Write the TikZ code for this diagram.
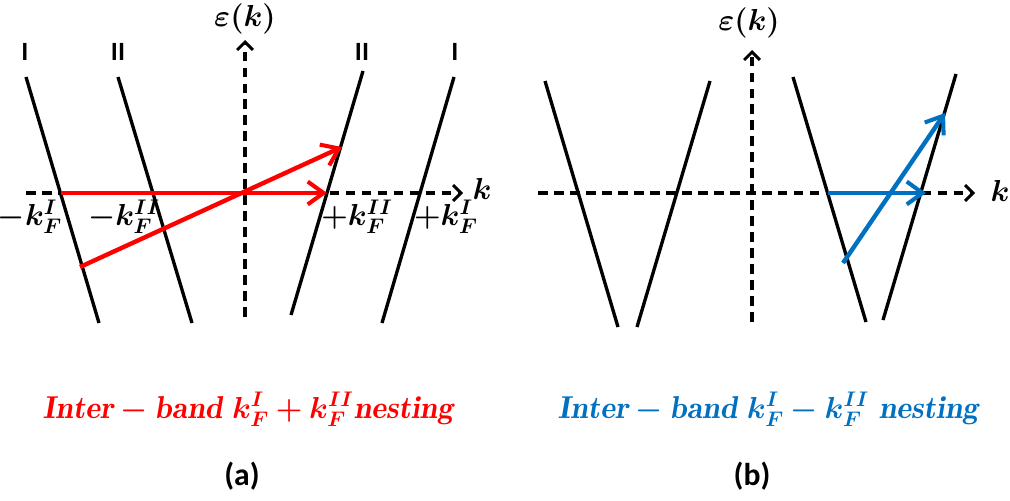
\documentclass[tikz,border=0pt]{standalone}
\usepackage{amsmath,bm}
\usepackage{fontspec}
\newfontfamily\calib{Carlito}
\usetikzlibrary{arrows.meta}
\definecolor{nred}{RGB}{255,0,0}
\definecolor{nblue}{RGB}{0,112,192}
\tikzset{
  band/.style={line width=1.9pt, black},
  axisline/.style={line width=1.9pt, black, dash pattern=on 5.5pt off 3.6pt,
    -{Straight Barb[length=4.5pt,width=9pt,line width=1.7pt]}},
  nestarrow/.style={line width=2.5pt, -{Straight Barb[length=9pt,width=13pt,line width=2.3pt]}},
  blabel/.style={font=\calib\bfseries\fontsize{15}{16}\selectfont, inner sep=0pt},
  klabel/.style={font=\fontsize{17}{19}\selectfont, inner sep=0pt},
  epslabel/.style={font=\fontsize{17.5}{20}\selectfont, inner sep=0pt},
  caption/.style={font=\fontsize{18}{20}\selectfont, inner sep=0pt, anchor=base},
  panel/.style={font=\calib\bfseries\fontsize{18}{20}\selectfont, inner sep=0pt},
}
\begin{document}
\begin{tikzpicture}[x=0.02cm,y=-0.02cm]
\useasboundingbox (0,0) rectangle (1010,500);

% ---------- panel (a) ----------
\coordinate (aYb) at (245,317);
\coordinate (aYt) at (245,40);
\coordinate (aXl) at (26,193);
\coordinate (aXr) at (463,193);
\draw[axisline] (aYb) -- (aYt);
\draw[axisline] (aXl) -- (aXr);
\node[epslabel] (aeps) at (245,19) {$\bm{\varepsilon}\bm{(}\bm{k}\bm{)}$};
\node[klabel] (ak) at (482,189) {$\bm{k}$};

\coordinate (a1t) at (26,77);  \coordinate (a1b) at (99,323);
\coordinate (a2t) at (118,77); \coordinate (a2b) at (192,323);
\coordinate (a3t) at (363,71); \coordinate (a3b) at (291,315);
\coordinate (a4t) at (454,77); \coordinate (a4b) at (382,323);
\draw[band] (a1t) -- (a1b);
\draw[band] (a2t) -- (a2b);
\draw[band] (a3t) -- (a3b);
\draw[band] (a4t) -- (a4b);

\node[blabel] (aI1) at (25,52) {I};
\node[blabel] (aII1) at (118,52) {II};
\node[blabel] (aII2) at (362,52) {II};
\node[blabel] (aI2) at (455,52) {I};

\node[klabel] (kf1) at (30,217) {$\bm{-k_F^{I}}$};
\node[klabel] (kf2) at (124,217) {$\bm{-k_F^{II}}$};
\node[klabel] (kf3) at (357,217) {$\bm{+k_F^{II}}$};
\node[klabel] (kf4) at (446,217) {$\bm{+k_F^{I}}$};

\coordinate (rh1) at (61,193);  \coordinate (rh2) at (327,193);
\coordinate (rd1) at (80,267);  \coordinate (rd2) at (342,147);
\draw[nestarrow, nred] (rh1) -- (rh2);
\draw[nestarrow, nred] (rd1) -- (rd2);

\node[caption, nred] (capa) at (248,418)
  {$\bm{\mathit{Inter}-\mathit{band}\ k_F^{I}+k_F^{II}\mathit{nesting}}$};
\node[panel] (pa) at (242,476) {(a)};

% ---------- panel (b) ----------
\coordinate (bYb) at (752,322);
\coordinate (bYt) at (752,50);
\coordinate (bXl) at (538,193);
\coordinate (bXr) at (975,193);
\draw[axisline] (bYb) -- (bYt);
\draw[axisline] (bXl) -- (bXr);
\node[epslabel] (beps) at (749,23) {$\bm{\varepsilon}\bm{(}\bm{k}\bm{)}$};
\node[klabel] (bk) at (1000,191) {$\bm{k}$};

\coordinate (b1t) at (545,81);  \coordinate (b1b) at (618,327);
\coordinate (b2t) at (710,81);  \coordinate (b2b) at (637,327);
\coordinate (b3t) at (793,77);  \coordinate (b3b) at (866,322);
\coordinate (b4t) at (956,74);  \coordinate (b4b) at (883,320);
\draw[band] (b1t) -- (b1b);
\draw[band] (b2t) -- (b2b);
\draw[band] (b3t) -- (b3b);
\draw[band] (b4t) -- (b4b);

\coordinate (bh1) at (828,193); \coordinate (bh2) at (926,193);
\coordinate (bd1) at (843,263); \coordinate (bd2) at (945,113);
\draw[nestarrow, nblue] (bh1) -- (bh2);
\draw[nestarrow, nblue] (bd1) -- (bd2);

\node[caption, nblue] (capb) at (768,418)
  {$\bm{\mathit{Inter}-\mathit{band}\ k_F^{I}-k_F^{II}\ \mathit{nesting}}$};
\node[panel] (pb) at (752,476) {(b)};
\end{tikzpicture}
\end{document}
